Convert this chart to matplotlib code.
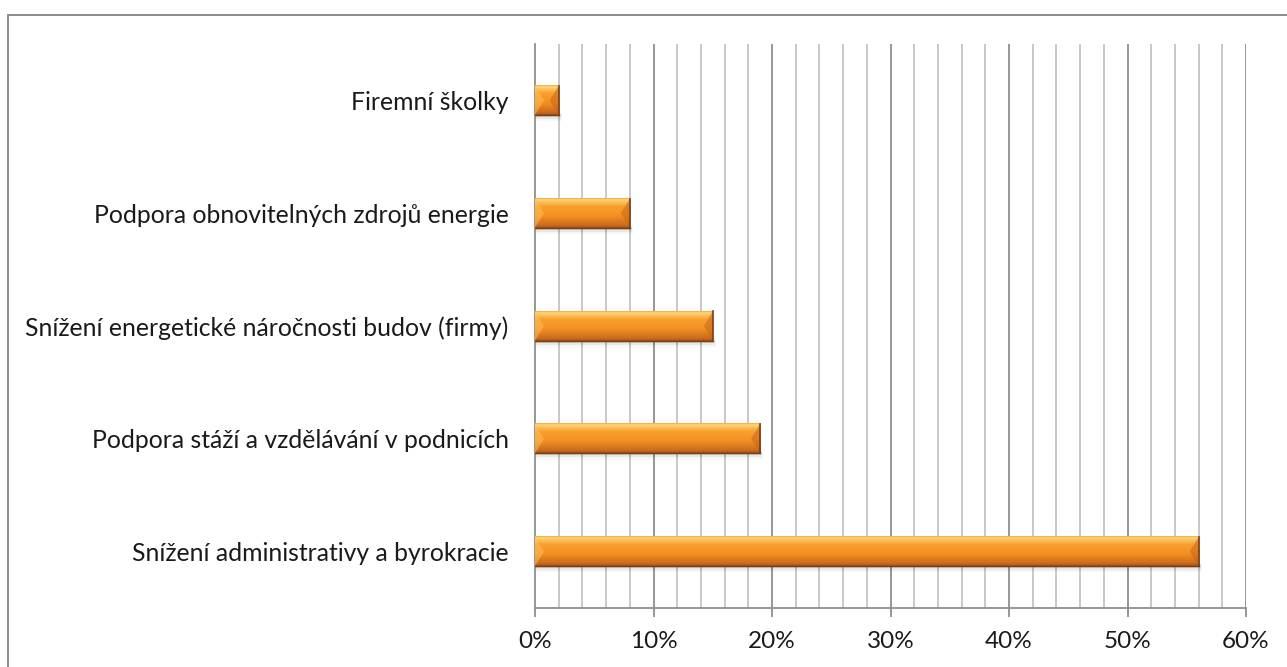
import matplotlib
matplotlib.use("Agg")
import matplotlib.pyplot as plt
import numpy as np
from matplotlib.patches import Rectangle, Polygon
from matplotlib.colors import LinearSegmentedColormap

categories = [
    "Snížení administrativy a byrokracie",
    "Podpora stáží a vzdělávání v podnicích",
    "Snížení energetické náročnosti budov (firmy)",
    "Podpora obnovitelných zdrojů energie",
    "Firemní školky",
]
values = [56, 19, 15, 8, 2]
xticks = [0, 10, 20, 30, 40, 50, 60]
xtick_labels = ["0%", "10%", "20%", "30%", "40%", "50%", "60%"]

plt.rcParams['font.family'] = ['Lato', 'DejaVu Sans']

W, H = 1287, 667
fig = plt.figure(figsize=(W / 100, H / 100), dpi=100)

# outer chart frame
fig.patches.append(Rectangle((8 / W, -0.1), 1.2, 1 - 15 / H + 0.1, transform=fig.transFigure,
                             fill=False, edgecolor="#8c8c8c", linewidth=1.4, zorder=0))

ax = fig.add_axes([535 / W, 1 - 608 / H, 711 / W, 564 / H])
ax.set_xlim(0, 60)
ax.set_ylim(-0.5, len(categories) - 0.5)

# gridlines
for xv in np.arange(2, 61, 2):
    major = (xv % 10 == 0)
    ax.axvline(xv, color="#8f8f8f" if major else "#c4c4c4", linewidth=1.3, zorder=0)

for s in ["top", "right"]:
    ax.spines[s].set_visible(False)
ax.spines["left"].set_color("#8f8f8f")
ax.spines["bottom"].set_color("#8f8f8f")
ax.spines["left"].set_linewidth(1.3)
ax.spines["bottom"].set_linewidth(1.3)

ax.set_xticks(xticks)
ax.set_xticklabels(xtick_labels)
ax.tick_params(axis="x", length=6.5, width=1.3, color="#8f8f8f", pad=10, labelsize=17.5, labelcolor="#1a1a1a")
ax.set_yticks(range(len(categories)))
ax.set_yticklabels(categories)
ax.tick_params(axis="y", length=0, pad=19, labelsize=17.8, labelcolor="#1a1a1a")

# bars with gradient / bevel look
bh = 0.26
cmap = LinearSegmentedColormap.from_list("bar", [
    (0.0, "#9c5018"), (0.07, "#c8691e"), (0.4, "#f4901f"), (0.72, "#f99e30"),
    (0.88, "#fcc35e"), (0.95, "#fdd978"), (1.0, "#f4a640")])
grad = np.linspace(0, 1, 100).reshape(-1, 1)

px_x = 60 / 711.0
px_y = (len(categories)) / 564.0
bev = 9

for i, v in enumerate(values):
    y0, y1 = i - bh / 2, i + bh / 2
    # shadow
    for k, a in enumerate([0.09, 0.06, 0.035]):
        ax.add_patch(Rectangle((0, y0 - (k + 1) * 2 * px_y), v + (k + 1) * px_x, (k + 1) * 2 * px_y + 2 * px_y,
                               facecolor="#000000", alpha=a, edgecolor="none", zorder=2))
    ax.imshow(grad, extent=(0, v, y0, y1), aspect="auto", cmap=cmap, origin="lower",
              zorder=3, interpolation="bilinear")
    bx = min(bev * px_x, v / 2)
    # left bevel (light chevron)
    ax.add_patch(Polygon([(0, y0), (bx, i), (0, y1)], closed=True,
                         facecolor="#ffc45a", alpha=0.5, edgecolor="none", zorder=4))
    # right bevel (dark)
    ax.add_patch(Polygon([(v, y0), (v - bx, i), (v, y1)], closed=True,
                         facecolor="#c0641a", alpha=0.5, edgecolor="none", zorder=4))
    # dark outline right and bottom
    ax.plot([v, v], [y0, y1], color="#7a3d10", linewidth=1.2, zorder=5)
    ax.plot([0, v], [y0, y0], color="#7a3d10", linewidth=1.0, zorder=5)

ax.set_xlim(0, 60)
ax.set_ylim(-0.5, len(categories) - 0.5)

fig.savefig("out.png", dpi=100)
